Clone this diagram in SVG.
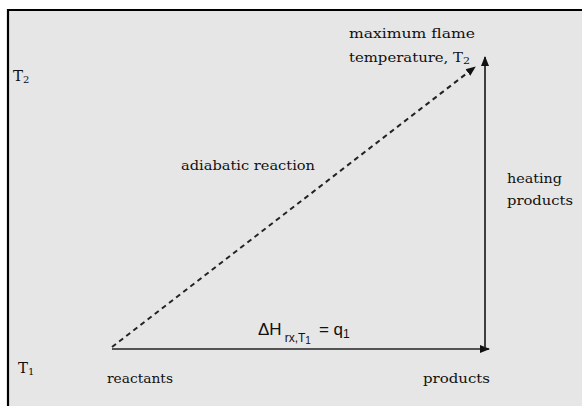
<svg xmlns="http://www.w3.org/2000/svg" width="582" height="406" viewBox="0 0 582 406">
  <style>
    .lbl { font-family: "DejaVu Serif", "Liberation Serif", serif; font-size: 13.5px; fill: #111; }
    .ax { font-family: "DejaVu Serif", "Liberation Serif", serif; font-size: 15px; fill: #111; }
    .sub { font-size: 10px; }
    .eq { font-family: "Liberation Sans", Arial, sans-serif; font-size: 17px; fill: #111; }
    .ln { stroke: #222; stroke-width: 1.7; fill: none; }
    .dash { stroke: #222; stroke-width: 2; fill: none; stroke-dasharray: 5 4; }
  </style>
  <defs>
    <marker id="ah" viewBox="0 0 10 10" refX="9" refY="5" markerWidth="10" markerHeight="10" markerUnits="userSpaceOnUse" orient="auto">
      <path d="M0,1 L10,5 L0,9 Z" fill="#111"/>
    </marker>
  </defs>
  <rect x="0" y="0" width="582" height="406" fill="#ffffff"/>
  <rect x="8" y="10" width="574" height="396" fill="#e6e6e6"/>
  <path d="M8,406 V10 H582" stroke="#000" stroke-width="2.2" fill="none"/>

  <g id="connectors">
    <line class="ln" x1="112" y1="349" x2="489" y2="349" marker-end="url(#ah)"/>
    <line class="ln" x1="485" y1="349" x2="485" y2="57" marker-end="url(#ah)"/>
    <line class="dash" x1="112" y1="347" x2="475" y2="67" marker-end="url(#ah)"/>
  </g>

  <g id="axis-T2">
    <text class="ax" x="13" y="81">T<tspan class="sub" dy="2">2</tspan></text>
  </g>
  <g id="axis-T1">
    <text class="ax" x="18" y="373">T<tspan class="sub" dy="2">1</tspan></text>
  </g>
  <g id="reactants">
    <text class="lbl" x="107" y="383" textLength="66" lengthAdjust="spacingAndGlyphs">reactants</text>
  </g>
  <g id="products">
    <text class="lbl" x="423" y="383" textLength="67" lengthAdjust="spacingAndGlyphs">products</text>
  </g>
  <g id="max-flame">
    <text class="lbl" x="349" y="38" textLength="126" lengthAdjust="spacingAndGlyphs">maximum flame</text>
    <text class="lbl" x="349" y="62" textLength="121" lengthAdjust="spacingAndGlyphs">temperature, T<tspan class="sub" dy="2">2</tspan></text>
  </g>
  <g id="adiabatic">
    <text class="lbl" x="181" y="170" textLength="134" lengthAdjust="spacingAndGlyphs">adiabatic reaction</text>
  </g>
  <g id="heating">
    <text class="lbl" x="507" y="183" textLength="55" lengthAdjust="spacingAndGlyphs">heating</text>
    <text class="lbl" x="507" y="205" textLength="66" lengthAdjust="spacingAndGlyphs">products</text>
  </g>
  <g id="enthalpy">
    <text class="eq" x="258" y="335">ΔH<tspan font-size="12" dx="3" dy="7">rx,T</tspan><tspan font-size="10" dy="2">1</tspan><tspan dx="8" dy="-9">= q</tspan><tspan font-size="12" dy="3">1</tspan></text>
  </g>
</svg>
